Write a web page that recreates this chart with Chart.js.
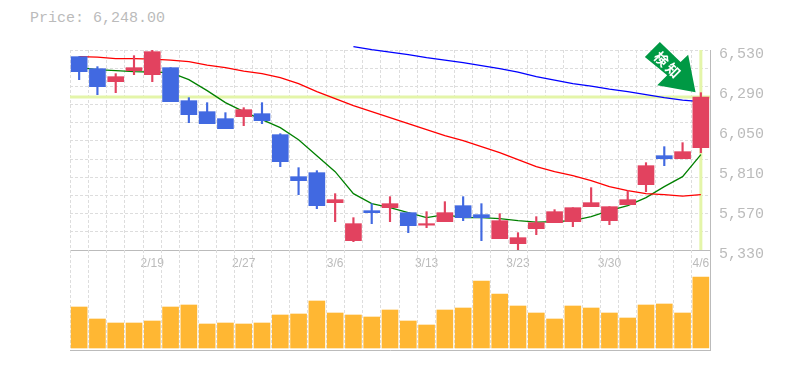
<!DOCTYPE html>
<html>
<head>
<meta charset="utf-8">
<style>
  html, body { margin: 0; padding: 0; background: #fff; overflow: hidden; }
  #wrap { position: relative; width: 785px; height: 370px; }
  #priceText { position: absolute; left: 30px; top: 10px; font: 15px "Liberation Mono", monospace; color: #bbb; white-space: pre; }
  canvas { position: absolute; left: 0; }
  #priceChart { top: 0; }
  #volumeChart { top: 250px; }
</style>
</head>
<body>
<div id="wrap">
  <div id="priceText">Price: 6,248.00</div>
  <canvas id="priceChart" width="785" height="272"></canvas>
  <canvas id="volumeChart" width="785" height="120"></canvas>
</div>
<script src="https://cdn.jsdelivr.net/npm/chart.js@4"></script>
<script>
// =========================
//  DATA
// =========================

const dates = ["", "", "", "", "2/19", "", "", "", "", "2/27", "", "", "", "", "3/6", "", "", "", "", "3/13",
  "", "", "", "", "3/23", "", "", "", "", "3/30", "", "", "", "", "4/6"];

const opens = [6490, 6418, 6340, 6406, 6382, 6424, 6226, 6160, 6118, 6130, 6148, 6022, 5770, 5794, 5614, 5386, 5566, 5584,
  5554, 5479, 5500, 5596, 5542, 5398, 5368, 5458, 5494, 5500, 5590, 5506, 5602, 5722, 5896, 5878, 5944];
const highs = [6490, 6430, 6388, 6496, 6530, 6424, 6244, 6214, 6154, 6184, 6214, 6028, 5824, 5806, 5668, 5524, 5608, 5650,
  5554, 5560, 5620, 5650, 5608, 5548, 5434, 5530, 5572, 5584, 5704, 5590, 5686, 5854, 5950, 5974, 6274];
const lows = [6352, 6262, 6274, 6382, 6340, 6220, 6094, 6088, 6058, 6076, 6088, 5830, 5662, 5578, 5500, 5380, 5488, 5500,
  5434, 5464, 5500, 5506, 5386, 5398, 5332, 5422, 5494, 5470, 5590, 5482, 5602, 5680, 5836, 5878, 5914];
const closes = [6400, 6310, 6370, 6424, 6520, 6220, 6142, 6088, 6058, 6172, 6106, 5860, 5746, 5596, 5632, 5488, 5554, 5608,
  5476, 5488, 5554, 5524, 5524, 5506, 5404, 5494, 5560, 5584, 5614, 5590, 5632, 5836, 5878, 5920, 6248];

const maShort = [6424, 6412, 6406, 6400, 6397, 6394, 6352, 6286, 6214, 6160, 6112, 6064, 5992, 5896, 5800, 5668, 5608, 5584,
  5554, 5524, 5542, 5524, 5524, 5518, 5506, 5497, 5500, 5506, 5530, 5566, 5596, 5644, 5710, 5770, 5902];
const maMid = [6490, 6487, 6478, 6478, 6475, 6469, 6460, 6439, 6424, 6403, 6388, 6364, 6328, 6280, 6238, 6196, 6160, 6124,
  6088, 6052, 6016, 5986, 5950, 5914, 5872, 5830, 5800, 5776, 5746, 5710, 5686, 5668, 5662, 5653, 5662];
const maLong = [null, null, null, null, null, null, null, null, null, null, null, null, null, null, null, 6550, 6532, 6517,
  6502, 6484, 6469, 6454, 6436, 6418, 6397, 6370, 6349, 6328, 6313, 6295, 6280, 6262, 6244, 6229, 6220];

const volumes = [410, 290, 250, 250, 270, 410, 430, 240, 250, 240, 250, 330, 340, 470, 350, 330, 310, 380,
  270, 230, 380, 400, 670, 540, 420, 350, 290, 420, 400, 350, 300, 430, 440, 350, 710];

const priceTicks = [5330, 5570, 5810, 6050, 6290, 6530];
const lastPrice = 6248;
const signalText = ["検", "知"];

// =========================
//  CONFIG + CONSTANTS
// =========================

const UP_COLOR = "#e2425f";
const DOWN_COLOR = "#4169e1";
const VOLUME_COLOR = "#ffb733";
const BAND_COLOR = "#e4f5a9";
const ARROW_COLOR = "#009944";
const GRID_COLOR = "#dddddd";
const AXIS_COLOR = "#bbbbbb";
const GRID_DASH = [3, 2];
const LEFT = 70;
const AXIS_WIDTH = 75;

const candleColors = closes.map((c, i) => (c >= opens[i] ? UP_COLOR : DOWN_COLOR));

// =========================
//  PLUGINS
// =========================

// crosshair on the last candle, under the marks
const crosshairPlugin = {
  id: "crosshair",
  beforeDatasetsDraw(chart) {
    const { ctx, chartArea, scales } = chart;
    const x = scales.x.getPixelForValue(dates.length - 1);
    const y = scales.y.getPixelForValue(lastPrice);
    ctx.save();
    ctx.strokeStyle = BAND_COLOR;
    ctx.lineWidth = 3;
    ctx.beginPath();
    ctx.moveTo(chartArea.left, y);
    ctx.lineTo(chartArea.right, y);
    ctx.moveTo(x, chartArea.top);
    ctx.lineTo(x, chartArea.bottom);
    ctx.stroke();
    ctx.restore();
  }
};

// green signal arrow pointing at the high of the last candle
const arrowPlugin = {
  id: "signalArrow",
  afterDatasetsDraw(chart) {
    const { ctx, scales } = chart;
    const last = dates.length - 1;
    const x = scales.x.getPixelForValue(last);
    const y = scales.y.getPixelForValue(highs[last]);
    const outline = [[-40, -50.7], [-19.3, -30.7], [-11.7, -38], [-4.3, -0.3], [-42.7, -7.3], [-32.7, -17.3], [-55, -35.7]];
    ctx.save();
    ctx.translate(x - 1, y);
    ctx.fillStyle = ARROW_COLOR;
    ctx.beginPath();
    outline.forEach((p, i) => (i ? ctx.lineTo(p[0], p[1]) : ctx.moveTo(p[0], p[1])));
    ctx.closePath();
    ctx.fill();
    ctx.fillStyle = "#fff";
    ctx.font = 'bold 14px "Noto Sans CJK JP"';
    ctx.textAlign = "center";
    ctx.textBaseline = "middle";
    [[-38.3, -33.7], [-26.7, -22.3]].forEach((p, i) => {
      ctx.save();
      ctx.translate(p[0], p[1]);
      ctx.rotate(Math.PI / 4);
      ctx.fillText(signalText[i], 0, 0);
      ctx.restore();
    });
    ctx.restore();
  }
};

// =========================
//  PRICE CHART
// =========================

function lineSet(data, color) {
  return { type: "line", data, borderColor: color, borderWidth: 1.3, pointRadius: 0, tension: 0, fill: false, clip: false, order: 3, yAxisID: "y" };
}

new Chart(document.getElementById("priceChart"), {
  data: {
    labels: dates,
    datasets: [
      lineSet(maLong, "#0000ff"),
      lineSet(maMid, "#ff0000"),
      lineSet(maShort, "#008000"),
      {
        type: "bar",
        data: lows.map((l, i) => [l, highs[i]]),
        backgroundColor: candleColors,
        barThickness: 1.5,
        grouped: false,
        order: 2,
        yAxisID: "y"
      },
      {
        type: "bar",
        data: opens.map((o, i) => [o, closes[i]]),
        backgroundColor: candleColors,
        barThickness: 16,
        grouped: false,
        order: 1,
        yAxisID: "y"
      }
    ]
  },
  options: {
    responsive: false,
    animation: false,
    layout: { padding: { left: LEFT, top: 50, right: 0, bottom: 0 } },
    plugins: { legend: { display: false }, tooltip: { enabled: false } },
    scales: {
      x: {
        afterFit: s => { s.height = 22; },
        grid: { color: GRID_COLOR, drawTicks: false },
        border: { color: AXIS_COLOR, dash: GRID_DASH },
        ticks: {
          autoSkip: false,
          maxRotation: 0,
          padding: 6,
          color: AXIS_COLOR,
          font: { family: "Liberation Sans", size: 12 }
        }
      },
      y: {
        position: "right",
        min: 5330,
        max: 6530,
        afterFit: s => { s.width = AXIS_WIDTH; },
        afterBuildTicks: s => { s.ticks = priceTicks.map(v => ({ value: v })); },
        grid: { display: false, drawTicks: false, tickLength: 0 },
        border: { color: AXIS_COLOR },
        ticks: {
          padding: 9,
          labelOffset: 4,
          color: AXIS_COLOR,
          font: { family: "Liberation Mono", size: 15 },
          callback: v => v.toLocaleString("en-US")
        }
      },
      yGrid: {
        position: "right",
        min: 5330,
        max: 6530,
        afterFit: s => { s.width = 0; },
        grid: { color: GRID_COLOR, drawTicks: false },
        border: { display: false, dash: GRID_DASH },
        ticks: { count: 12, display: false }
      }
    }
  },
  plugins: [crosshairPlugin, arrowPlugin]
});

// =========================
//  VOLUME CHART
// =========================

new Chart(document.getElementById("volumeChart"), {
  type: "bar",
  data: {
    labels: dates,
    datasets: [{ data: volumes, backgroundColor: VOLUME_COLOR, barThickness: 16 }]
  },
  options: {
    responsive: false,
    animation: false,
    layout: { padding: { left: LEFT, top: 0, right: 0, bottom: 20 } },
    plugins: { legend: { display: false }, tooltip: { enabled: false } },
    scales: {
      x: {
        afterFit: s => { s.height = 0; },
        grid: { color: GRID_COLOR, drawTicks: false },
        border: { color: AXIS_COLOR, dash: GRID_DASH },
        ticks: { display: false, autoSkip: false }
      },
      y: {
        position: "right",
        min: -20,
        max: 980,
        afterFit: s => { s.width = AXIS_WIDTH; },
        grid: { display: false },
        border: { color: AXIS_COLOR },
        ticks: { display: false }
      }
    }
  }
});
</script>
</body>
</html>
